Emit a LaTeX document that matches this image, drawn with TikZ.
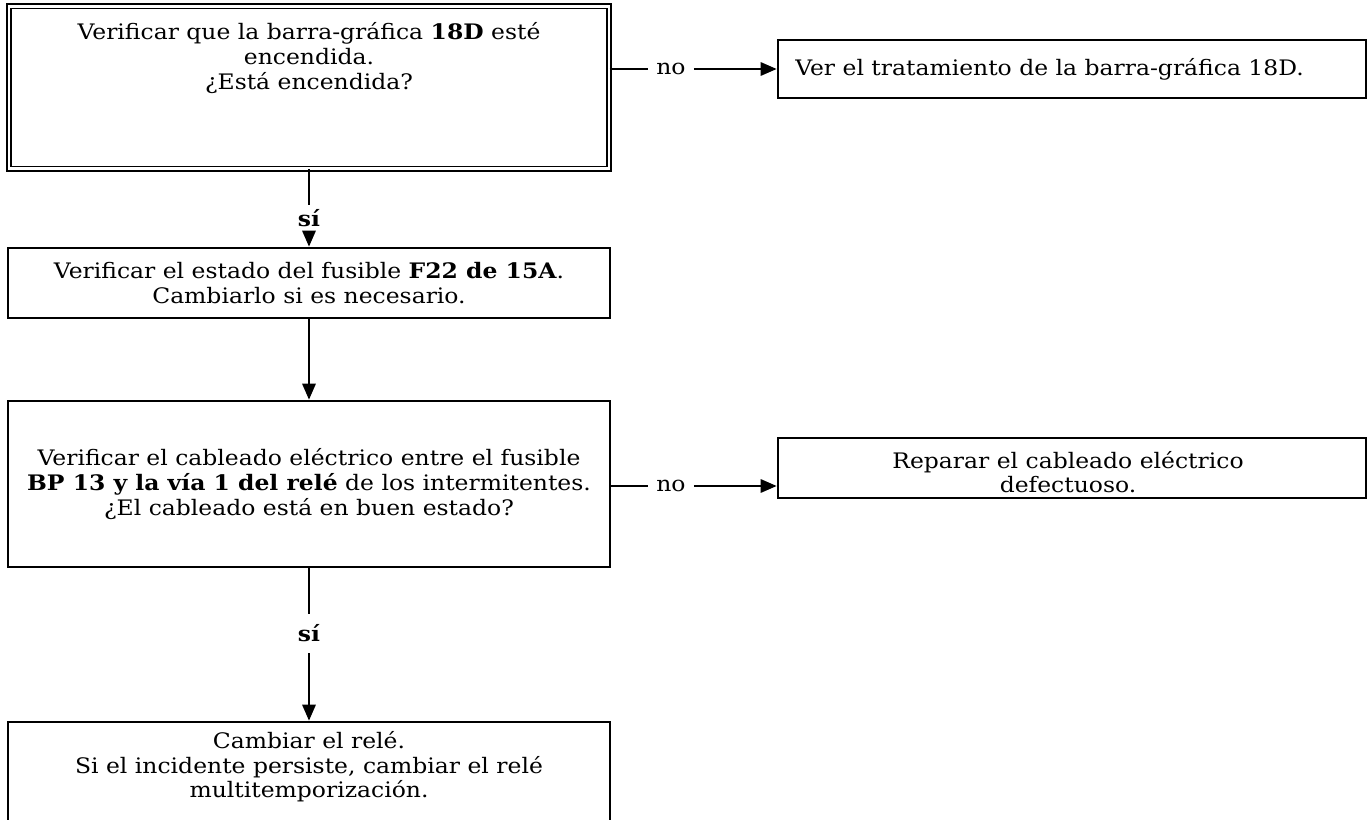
\documentclass[tikz,border=0pt]{standalone}
\usepackage{fontspec}
\setmainfont{DejaVu Serif}[FakeStretch=1.1]
\usetikzlibrary{arrows.meta}
\begin{document}
\begin{tikzpicture}[x=0.75pt,y=-0.75pt,
  txt/.style={font=\fontsize{16}{18.5}\selectfont},
  box/.style={draw, line width=2pt, align=center, inner sep=0pt, txt},
  dbox/.style={draw, double, double distance=2.2pt, line width=1pt, align=center, inner sep=0pt, txt},
  lbl/.style={inner sep=0pt, txt},
  conn/.style={line width=1.6pt},
  arr/.style={conn, -{Triangle[length=12pt,width=10pt]}},
]
\useasboundingbox (0,0) rectangle (1368,820);
\clip (0,0) rectangle (1368,820);

% boxes
\node[dbox, minimum width=450pt, minimum height=122pt] (b1) at (309,87.5) {};
\node[lbl, align=center] (t1) at (309,58)
  {Verificar que la barra-gráfica \textbf{18D} esté\\encendida.\\¿Está encendida?};

\node[box, minimum width=441pt, minimum height=43.5pt] (b2) at (1072,69) {};
\node[lbl, anchor=west] (t2) at (795,69) {Ver el tratamiento de la barra-gráfica 18D.};

\node[box, minimum width=451.5pt, minimum height=52.5pt] (b3) at (309,283)
  {Verificar el estado del fusible \textbf{F22 de 15A}.\\Cambiarlo si es necesario.};

\node[box, minimum width=451.5pt, minimum height=124.5pt] (b4) at (309,484)
  {Verificar el cableado eléctrico entre el fusible\\\textbf{BP 13 y la vía 1 del relé} de los intermitentes.\\¿El cableado está en buen estado?};

\node[box, minimum width=441pt, minimum height=45pt] (b5) at (1072,468) {};
\node[lbl, align=center] (t5) at (1068,472) {Reparar el cableado eléctrico\\defectuoso.};

\node[box, minimum width=451.5pt, minimum height=90pt] (b6) at (309,782) {};
\node[lbl, align=center] (t6) at (309,767)
  {Cambiar el relé.\\Si el incidente persiste, cambiar el relé\\multitemporización.};

% labels
\node[lbl, minimum width=33.75pt] (n1) at (671,69) {no};
\node[lbl, minimum height=20.25pt, font=\fontsize{16}{18}\selectfont\bfseries] (s1) at (309,218.5) {sí};
\node[lbl, minimum width=33.75pt] (n2) at (671,486) {no};
\node[lbl, minimum height=29.25pt, font=\fontsize{16}{18}\selectfont\bfseries] (s2) at (309,633.5) {sí};

% connectors
\draw[conn] (b1.east |- n1) -- (n1.west);
\draw[arr] (n1.east) -- (n1 -| b2.west);
\draw[conn] (b1.south) -- (s1.north);
\draw[arr] (s1.south) -- (b3.north);
\draw[arr] (b3.south) -- (b4.north);
\draw[conn] (b4.east |- n2) -- (n2.west);
\draw[arr] (n2.east) -- (n2 -| b5.west);
\draw[conn] (b4.south) -- (s2.north);
\draw[arr] (s2.south) -- (b6.north);
\end{tikzpicture}
\end{document}
